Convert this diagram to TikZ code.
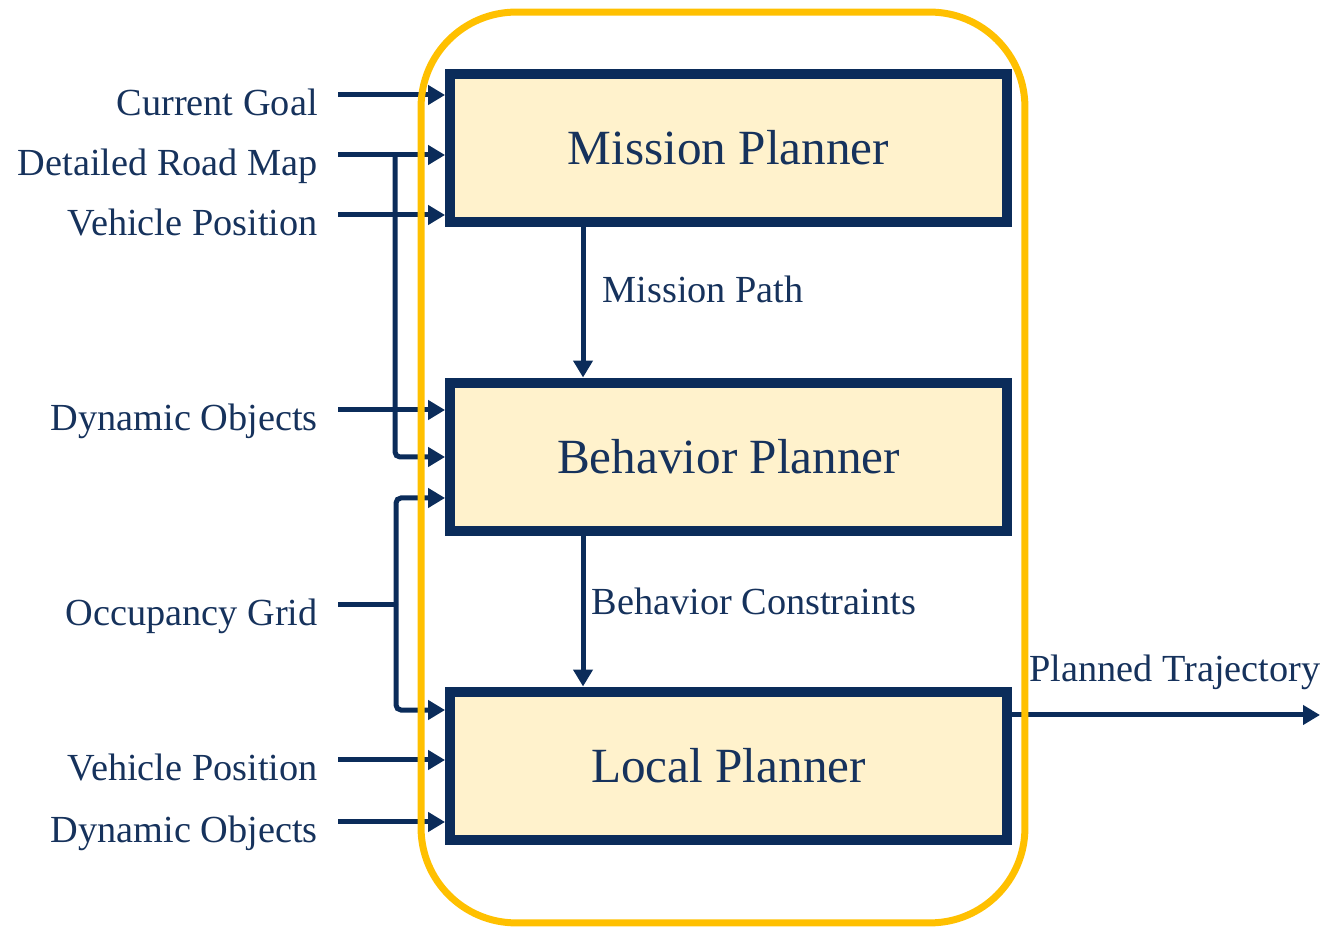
\documentclass[tikz,border=0pt]{standalone}
\usepackage{fontspec}
\setmainfont{Liberation Serif}
\usetikzlibrary{arrows.meta}

\definecolor{navy}{HTML}{0B2C5A}
\definecolor{labelnavy}{HTML}{16325C}
\definecolor{boxfill}{HTML}{FFF2CC}
\definecolor{frameorange}{HTML}{FFC000}

\tikzset{
  planner/.style={draw=navy, line width=0.2cm, fill=boxfill, inner sep=0pt,
    minimum width=11.14cm, minimum height=2.98cm, text=labelnavy,
    font=\fontsize{28}{34}\selectfont},
  inlabel/.style={anchor=base east, inner sep=0pt, text=labelnavy,
    font=\fontsize{21.8}{26}\selectfont},
  flowlabel/.style={anchor=base west, inner sep=0pt, text=labelnavy,
    font=\fontsize{21.8}{26}\selectfont},
  feed/.style={navy, line width=0.1cm, rounded corners=0.1cm,
    -{Triangle[length=0.34cm, width=0.38cm]}},
  feedline/.style={navy, line width=0.1cm, rounded corners=0.1cm},
  groupframe/.style={draw=frameorange, line width=0.14cm, rounded corners=1.9cm,
    inner sep=0pt, minimum width=12.08cm, minimum height=18.22cm}
}

\begin{document}
\begin{tikzpicture}[x=0.02cm, y=-0.02cm]
    \useasboundingbox (0,0) rectangle (1320,928);

    % The three planners
    \node[planner] (mission)  at (728.5,148) {Mission Planner};
    \node[planner] (behavior) at (728.5,457) {Behavior Planner};
    \node[planner] (local)    at (728.5,766) {Local Planner};

    % Start points of the inputs
    \coordinate (goal)    at (338,95);
    \coordinate (roadmap) at (338,155);
    \coordinate (posA)    at (338,215);
    \coordinate (dynA)    at (338,410);
    \coordinate (grid)    at (338,605);
    \coordinate (posB)    at (338,760);
    \coordinate (dynB)    at (338,822);
    \coordinate (mapjoint)  at (395,155);
    \coordinate (gridjoint) at (396,605);

    % Input labels
    \node[inlabel] (goaltext)    at ([xshift=-0.4cm, yshift=-0.42cm]goal)    {Current Goal};
    \node[inlabel] (roadmaptext) at ([xshift=-0.4cm, yshift=-0.42cm]roadmap) {Detailed Road Map};
    \node[inlabel] (posAtext)    at ([xshift=-0.4cm, yshift=-0.42cm]posA)    {Vehicle Position};
    \node[inlabel] (dynAtext)    at ([xshift=-0.4cm, yshift=-0.42cm]dynA)    {Dynamic Objects};
    \node[inlabel] (gridtext)    at ([xshift=-0.4cm, yshift=-0.42cm]grid)    {Occupancy Grid};
    \node[inlabel] (posBtext)    at ([xshift=-0.4cm, yshift=-0.42cm]posB)    {Vehicle Position};
    \node[inlabel] (dynBtext)    at ([xshift=-0.4cm, yshift=-0.42cm]dynB)    {Dynamic Objects};

    % Inputs of the mission planner
    \draw[feed] (goal) -- (goal -| mission.west);
    \draw[feed] (roadmap) -- (roadmap -| mission.west);
    \draw[feed] (posA) -- (posA -| mission.west);

    % Inputs of the behavior planner
    \draw[feed] (dynA) -- (dynA -| behavior.west);
    \draw[feed] (mapjoint) |- (behavior.west);
    \draw[feedline] (grid) -- (gridjoint);
    \draw[feed] (gridjoint) |- ([yshift=-0.82cm]behavior.west);

    % Inputs of the local planner
    \draw[feed] (gridjoint) |- ([yshift=1.12cm]local.west);
    \draw[feed] (posB) -- (posB -| local.west);
    \draw[feed] (dynB) -- (dynB -| local.west);

    % Between the planners
    \draw[feed] ([xshift=2.76cm]mission.south west) -- node[flowlabel, pos=0.5, xshift=0.34cm] {Mission Path}
        ([xshift=2.76cm]behavior.north west);
    \draw[feed] ([xshift=2.76cm]behavior.south west) -- node[flowlabel, pos=0.5, xshift=0.12cm, yshift=-0.06cm] {Behavior Constraints}
        ([xshift=2.76cm]local.north west);

    % Output
    \coordinate (trajectory) at (1320,715);
    \draw[feed] (trajectory -| local.east) -- node[flowlabel, pos=0, xshift=0.3cm, yshift=0.68cm] {Planned Trajectory}
        (trajectory);

    % Frame round the planners
    \node[groupframe] (planners) at (723,467.5) {};
\end{tikzpicture}
\end{document}
